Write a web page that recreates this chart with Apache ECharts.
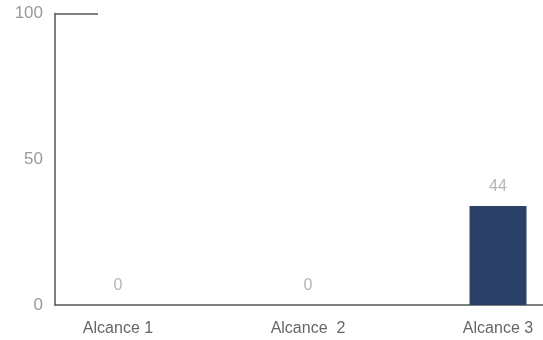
<!DOCTYPE html>
<html><head><meta charset="utf-8">
<script src="https://cdn.jsdelivr.net/npm/echarts@6/dist/echarts.min.js"></script>
<style>html,body{margin:0;padding:0;background:#fff}#c{width:543px;height:340px}</style>
</head><body><div id="c"></div>
<script>
var categories = ['Alcance 1', 'Alcance  2', 'Alcance 3'];
var values = [0, 0, 34];
var valueLabels = ['0', '0', '44'];
var yTicks = [0, 50, 100];

var chart = echarts.init(document.getElementById('c'), null, {renderer: 'canvas'});
var font = 'Liberation Sans, Arial, sans-serif';
chart.setOption({
  animation: false,
  grid: [
    {left: 55, right: 0, top: 13.5, bottom: 35, outerBoundsMode: 'none', containLabel: false},
    {left: 23, width: 570, top: 13.5, bottom: 35, outerBoundsMode: 'none', containLabel: false}
  ],
  xAxis: [
    {gridIndex: 0, type: 'value', min: 0, max: 1, axisLine: {show: true, onZero: false, lineStyle: {color: '#555', width: 1.5}},
     axisTick: {show: false}, axisLabel: {show: false}, splitLine: {show: false}},
    {gridIndex: 1, type: 'category', data: categories, boundaryGap: true,
     axisLine: {show: false}, axisTick: {show: false},
     axisLabel: {color: '#666', fontSize: 16, fontFamily: font, margin: 16}}
  ],
  yAxis: [
    {gridIndex: 0, type: 'value', min: 0, max: 100, interval: 50,
     axisLine: {show: true, lineStyle: {color: '#555', width: 1.5}},
     axisTick: {show: true, inside: true, length: 43, customValues: [100], lineStyle: {color: '#555', width: 1.5}},
     axisLabel: {color: '#999', fontSize: 17, fontFamily: font, margin: 12, customValues: yTicks},
     splitLine: {show: false}},
    {gridIndex: 1, type: 'value', min: 0, max: 100, interval: 50, show: false}
  ],
  series: [{
    type: 'bar', xAxisIndex: 1, yAxisIndex: 1,
    data: values, barWidth: 57,
    itemStyle: {color: '#2b4168'},
    label: {show: true, position: 'top', distance: 11, color: '#b5b5b5', fontSize: 16, fontFamily: font,
      formatter: function (p) { return valueLabels[p.dataIndex]; }}
  }]
});
</script></body></html>
